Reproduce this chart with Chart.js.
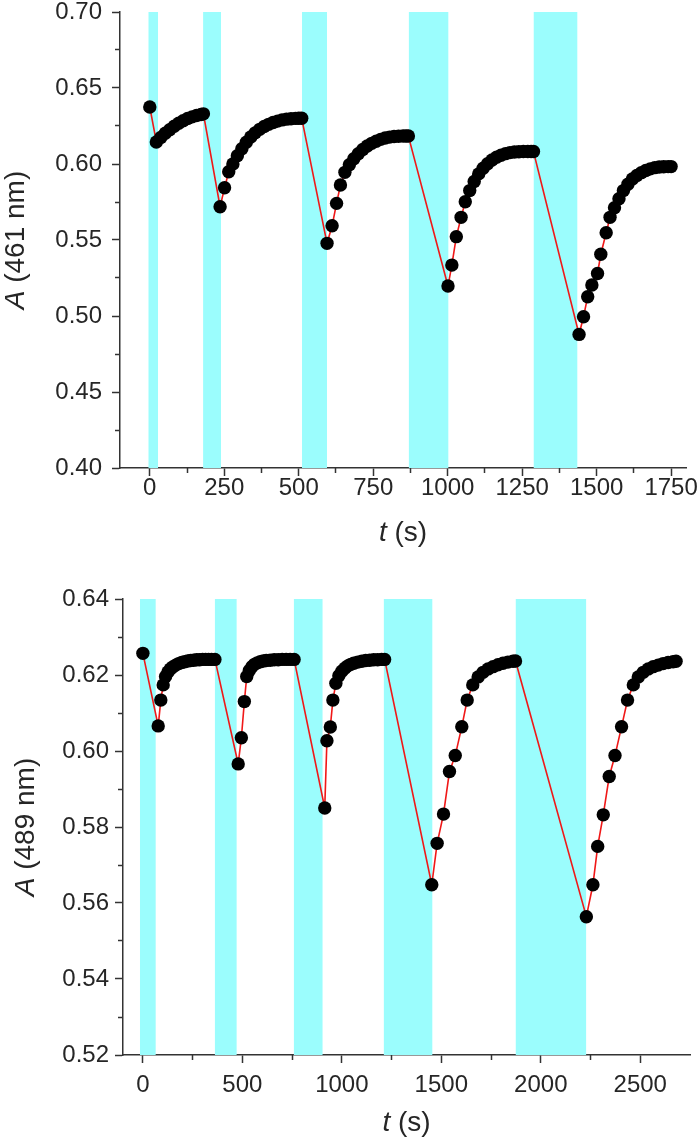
<!DOCTYPE html>
<html>
<head>
<meta charset="utf-8">
<script src="https://cdn.jsdelivr.net/npm/chart.js@4/dist/chart.umd.min.js"></script>
<style>
  html, body { margin: 0; padding: 0; background: #ffffff; }
  #wrap { position: relative; width: 700px; height: 1141px; }
  canvas { position: absolute; left: 0; }
  #c1 { top: 0; }
  #c2 { top: 550px; }
</style>
</head>
<body>
<div id="wrap">
  <canvas id="c1" width="700" height="550"></canvas>
  <canvas id="c2" width="700" height="591"></canvas>
</div>
<script>
// ---------- Top panel: A (461 nm) ----------
const topTime = [0,
  22,37,52,67,82,97,112,127,142,157,172,180,
  236,251,265,279,294,309,324,339,354,369,384,399,414,429,444,459,474,489,500,510,
  595,612,627,640,655,670,685,700,715,730,745,760,775,790,805,820,835,850,860,868,
  1001,1014,1029,1045,1059,1074,1089,1104,1119,1134,1149,1164,1179,1194,1209,1224,1239,1254,1269,1280,1288,
  1441,1456,1470,1484,1503,1514,1532,1545,1560,1575,1590,1605,1620,1635,1650,1665,1680,1695,1710,1725,1740,1750];
const topAbs = [0.6375,
  0.6145,0.6175,0.6202,0.6226,0.6248,0.6268,0.6285,0.6299,0.6310,0.6319,0.6326,0.6330,
  0.5719,0.5844,0.5949,0.6000,0.6055,0.6100,0.6143,0.6178,0.6205,0.6228,0.6247,0.6261,0.6273,0.6282,0.6290,0.6295,0.6298,0.6300,0.6301,0.6301,
  0.5478,0.5594,0.5741,0.5862,0.5945,0.5995,0.6035,0.6068,0.6095,0.6118,0.6136,0.6150,0.6162,0.6171,0.6177,0.6181,0.6183,0.6184,0.6184,0.6184,
  0.5197,0.5335,0.5522,0.5649,0.5752,0.5825,0.5885,0.5935,0.5972,0.6002,0.6026,0.6045,0.6058,0.6068,0.6075,0.6079,0.6081,0.6082,0.6082,0.6082,0.6082,
  0.4879,0.4995,0.5127,0.5204,0.5280,0.5406,0.5548,0.5649,0.5712,0.5772,0.5825,0.5867,0.5901,0.5925,0.5943,0.5957,0.5968,0.5976,0.5980,0.5982,0.5983,0.5983];
const topBandStart = [-5, 179, 511, 869, 1288];
const topBandEnd   = [28, 239, 595, 1003, 1436];
const topXTicks = [0, 250, 500, 750, 1000, 1250, 1500, 1750];
const topXMinor = [125, 375, 625, 875, 1125, 1375, 1625];
const topYTicks = [0.40, 0.45, 0.50, 0.55, 0.60, 0.65, 0.70];
const topYMinor = [0.425, 0.475, 0.525, 0.575, 0.625, 0.675];
const topXRange = [-100, 1800];
const topYRange = [0.40, 0.70];

// ---------- Bottom panel: A (489 nm) ----------
const botTime = [0,
  77,90,102,114,126,138,150,165,180,195,210,225,240,255,270,285,300,315,330,345,362,
  479,495,510,522,535,548,561,575,590,605,620,640,660,680,700,720,740,760,
  914,925,942,955,970,985,1000,1015,1030,1045,1060,1080,1100,1120,1140,1160,1180,1200,1215,
  1452,1479,1511,1541,1570,1603,1630,1658,1685,1710,1735,1760,1785,1810,1835,1860,1873,
  2229,2262,2286,2314,2344,2373,2406,2436,2465,2490,2515,2540,2565,2590,2615,2640,2665,2680];
const botAbs = [0.6257,
  0.6066,0.6134,0.6174,0.6196,0.6208,0.6216,0.6221,0.6226,0.6230,0.6233,0.6235,0.6237,0.6238,0.6239,0.6240,0.6240,0.6241,0.6241,0.6241,0.6241,0.6241,
  0.5966,0.6035,0.6130,0.6196,0.6212,0.6222,0.6228,0.6232,0.6235,0.6237,0.6238,0.6239,0.6240,0.6240,0.6241,0.6241,0.6241,0.6241,
  0.5850,0.6027,0.6063,0.6134,0.6178,0.6198,0.6210,0.6218,0.6224,0.6228,0.6231,0.6234,0.6236,0.6238,0.6239,0.6240,0.6240,0.6241,0.6241,
  0.5648,0.5757,0.5834,0.5946,0.5988,0.6064,0.6134,0.6174,0.6195,0.6207,0.6216,0.6222,0.6227,0.6231,0.6234,0.6236,0.6237,
  0.5564,0.5648,0.5749,0.5832,0.5933,0.5988,0.6064,0.6134,0.6174,0.6195,0.6207,0.6216,0.6222,0.6226,0.6230,0.6233,0.6235,0.6236];
const botBandStart = [-15, 361, 758, 1210, 1873];
const botBandEnd   = [65, 472, 904, 1456, 2229];
const botXTicks = [0, 500, 1000, 1500, 2000, 2500];
const botXMinor = [250, 750, 1250, 1750, 2250];
const botYTicks = [0.52, 0.54, 0.56, 0.58, 0.60, 0.62, 0.64];
const botYMinor = [0.53, 0.55, 0.57, 0.59, 0.61, 0.63];
const botXRange = [-100, 2750];
const botYRange = [0.52, 0.64];

const topXTitle = [{text: 't', italic: true}, {text: ' (s)', italic: false}];
const topYTitle = [{text: 'A', italic: true}, {text: ' (461 nm)', italic: false}];
const botXTitle = [{text: 't', italic: true}, {text: ' (s)', italic: false}];
const botYTitle = [{text: 'A', italic: true}, {text: ' (489 nm)', italic: false}];

// ---------- styling ----------
const FONT = '"Liberation Sans", Arial, Helvetica, sans-serif';
const TEXT = '#262626';
const AXIS = '#333333';
const BAND = '#9bfdfd';
const RED = '#f01818';

function drawParts(ctx, parts, cx, cy, rot, size) {
  ctx.save();
  ctx.translate(cx, cy);
  ctx.rotate(rot);
  ctx.textBaseline = 'middle';
  ctx.textAlign = 'left';
  ctx.fillStyle = TEXT;
  const fontOf = p => (p.italic ? 'italic ' : '') + size + 'px ' + FONT;
  const widths = parts.map(p => { ctx.font = fontOf(p); return ctx.measureText(p.text).width; });
  const total = widths.reduce((a, b) => a + b, 0);
  let x = -total / 2;
  parts.forEach((p, i) => { ctx.font = fontOf(p); ctx.fillText(p.text, x, 0); x += widths[i]; });
  ctx.restore();
}

const axisTitles = {
  id: 'axisTitles',
  afterDraw(chart, args, o) {
    const ca = chart.chartArea;
    drawParts(chart.ctx, o.x, (ca.left + ca.right) / 2, o.xTitleY, 0, o.size);
    drawParts(chart.ctx, o.y, o.yTitleX, (ca.top + ca.bottom) / 2, -Math.PI / 2, o.size);
  }
};

function buildChart(id, cfg) {
  const datasets = [{
    type: 'line',
    data: cfg.time.map((t, i) => ({x: t, y: cfg.abs[i]})),
    borderColor: RED,
    borderWidth: 1.6,
    pointRadius: 6.7,
    pointBackgroundColor: '#000000',
    pointBorderWidth: 0,
    pointHoverRadius: 6.7,
    tension: 0,
    fill: false,
    order: 0
  }];
  cfg.bandStart.forEach((s, i) => {
    datasets.push({
      type: 'line',
      data: [{x: s, y: cfg.yRange[1]}, {x: cfg.bandEnd[i], y: cfg.yRange[1]}],
      borderWidth: 0,
      borderColor: 'rgba(0,0,0,0)',
      backgroundColor: BAND,
      pointRadius: 0,
      fill: 'start',
      order: 5
    });
  });
  return new Chart(document.getElementById(id), {
    type: 'line',
    data: {datasets},
    plugins: [axisTitles],
    options: {
      responsive: false,
      animation: false,
      devicePixelRatio: 1,
      events: [],
      layout: {padding: {top: cfg.padTop, right: cfg.padRight, bottom: 0, left: 0}},
      plugins: {
        legend: {display: false},
        tooltip: {enabled: false},
        axisTitles: {x: cfg.xTitle, y: cfg.yTitle, xTitleY: cfg.xTitleY, yTitleX: cfg.yTitleX, size: 28}
      },
      scales: {
        x: {
          type: 'linear', position: 'bottom', weight: 1,
          min: cfg.xRange[0], max: cfg.xRange[1],
          afterBuildTicks: a => { a.ticks = cfg.xTicks.map(v => ({value: v})); },
          afterFit: s => { s.height = cfg.xAxisH; },
          ticks: {
            autoSkip: false, maxRotation: 0, color: TEXT, padding: cfg.xPad,
            font: {family: FONT, size: 24, lineHeight: 1},
            callback: v => String(v)
          },
          grid: {drawOnChartArea: false, drawTicks: true, tickLength: 8, tickColor: AXIS, tickWidth: 1.5},
          border: {display: true, color: AXIS, width: 1.5}
        },
        xm: {
          type: 'linear', axis: 'x', position: 'bottom', weight: 0,
          min: cfg.xRange[0], max: cfg.xRange[1],
          afterBuildTicks: a => { a.ticks = cfg.xMinor.map(v => ({value: v})); },
          afterFit: s => { s.height = 0; },
          ticks: {display: false},
          grid: {drawOnChartArea: false, drawTicks: true, tickLength: 5, tickColor: AXIS, tickWidth: 1.5},
          border: {display: false}
        },
        y: {
          type: 'linear', position: 'left', weight: 1,
          min: cfg.yRange[0], max: cfg.yRange[1],
          afterBuildTicks: a => { a.ticks = cfg.yTicks.map(v => ({value: v})); },
          afterFit: s => { s.width = cfg.yAxisW; s.paddingTop = 0; s.paddingBottom = 0; },
          ticks: {
            autoSkip: false, color: TEXT, padding: cfg.yPad,
            font: {family: FONT, size: 24, lineHeight: 1},
            callback: v => v.toFixed(2)
          },
          grid: {drawOnChartArea: false, drawTicks: true, tickLength: 8, tickColor: AXIS, tickWidth: 1.5},
          border: {display: true, color: AXIS, width: 1.5}
        },
        ym: {
          type: 'linear', axis: 'y', position: 'left', weight: 0,
          min: cfg.yRange[0], max: cfg.yRange[1],
          afterBuildTicks: a => { a.ticks = cfg.yMinor.map(v => ({value: v})); },
          afterFit: s => { s.width = 0; s.paddingTop = 0; s.paddingBottom = 0; },
          ticks: {display: false},
          grid: {drawOnChartArea: false, drawTicks: true, tickLength: 5, tickColor: AXIS, tickWidth: 1.5},
          border: {display: false}
        }
      }
    }
  });
}

buildChart('c1', {
  time: topTime, abs: topAbs, bandStart: topBandStart, bandEnd: topBandEnd,
  xTicks: topXTicks, xMinor: topXMinor, yTicks: topYTicks, yMinor: topYMinor,
  xRange: topXRange, yRange: topYRange,
  padTop: 12, padRight: 14, xAxisH: 82, yAxisW: 120, xPad: 0, yPad: 10,
  xTitle: topXTitle, yTitle: topYTitle, xTitleY: 533, yTitleX: 16
});

buildChart('c2', {
  time: botTime, abs: botAbs, bandStart: botBandStart, bandEnd: botBandEnd,
  xTicks: botXTicks, xMinor: botXMinor, yTicks: botYTicks, yMinor: botYMinor,
  xRange: botXRange, yRange: botYRange,
  padTop: 49, padRight: 10, xAxisH: 86, yAxisW: 123, xPad: 10, yPad: 6,
  xTitle: botXTitle, yTitle: botYTitle, xTitleY: 573, yTitleX: 26
});
</script>
</body>
</html>
